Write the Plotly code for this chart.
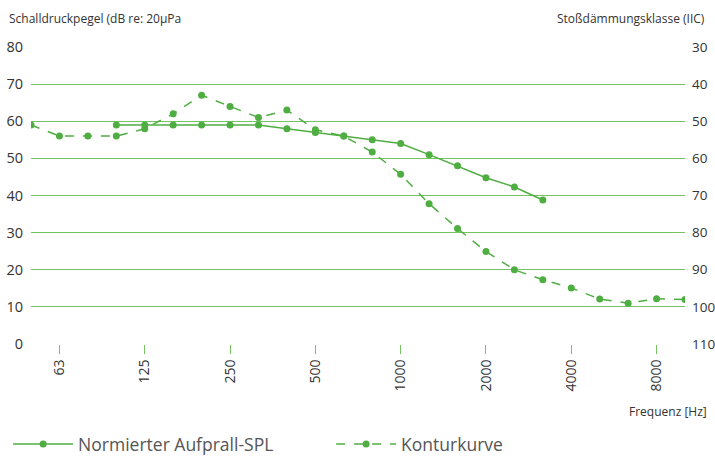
import plotly.graph_objects as go

freqs = ["50", "63", "80", "100", "125", "160", "200", "250", "315", "400", "500", "630",
         "800", "1000", "1250", "1600", "2000", "2500", "3150", "4000", "5000", "6300", "8000", "10000"]
tick_labels = ["63", "125", "250", "500", "1000", "2000", "4000", "8000"]

spl_freqs = ["100", "125", "160", "200", "250", "315", "400", "500", "630",
             "800", "1000", "1250", "1600", "2000", "2500", "3150"]
spl_values = [59, 59, 59, 59, 59, 59, 58, 57, 56, 55, 54, 51, 48, 44.8, 42.3, 38.8]

contour_values = [59, 56, 56, 56, 58, 62, 67, 64, 61, 63, 57.7, 56, 51.7, 45.7, 37.8,
                  31.1, 24.9, 20, 17.3, 15.1, 12.1, 11, 12.2, 12]

left_ticks = [0, 10, 20, 30, 40, 50, 60, 70, 80]
right_ticks = [30, 40, 50, 60, 70, 80, 90, 100, 110]

green = "#4fae41"
grid = "#76c265"
font = "Open Sans, Noto Sans, sans-serif"

fig = go.Figure()
fig.add_trace(go.Scatter(x=spl_freqs, y=spl_values, mode="lines+markers",
                         name="Normierter Aufprall-SPL",
                         line=dict(color=green, width=1.5),
                         marker=dict(color=green, size=7)))
fig.add_trace(go.Scatter(x=freqs, y=contour_values, mode="lines+markers",
                         name="Konturkurve",
                         line=dict(color=green, width=1.5, dash="dash"),
                         marker=dict(color=green, size=7)))
# invisible trace for right axis
fig.add_trace(go.Scatter(x=[freqs[0]], y=[right_ticks[0]], yaxis="y2", mode="markers",
                         marker=dict(opacity=0), showlegend=False, hoverinfo="skip"))

fig.update_layout(
    width=715, height=459,
    margin=dict(l=31, r=30, t=47, b=115, autoexpand=False),
    paper_bgcolor="white", plot_bgcolor="white",
    font=dict(family=font, color="#333333"),
    xaxis=dict(type="category", categoryorder="array", categoryarray=freqs,
               range=[0, len(freqs) - 1], automargin=False,
               tickmode="array", tickvals=tick_labels, ticktext=tick_labels,
               tickangle=-90, ticks="outside", ticklen=9, tickcolor=grid, tickwidth=1,
               showgrid=False, showline=False, zeroline=False,
               tickfont=dict(size=14, color="#333333")),
    yaxis=dict(range=[0, 80], tickvals=left_ticks, showgrid=True, gridcolor=grid, gridwidth=1.2,
               zeroline=False, showline=False, ticks="", ticklabelstandoff=7, automargin=False,
               tickfont=dict(size=14.5, color="#333333")),
    yaxis2=dict(range=[110, 30], tickvals=right_ticks, overlaying="y", side="right",
                showgrid=False, zeroline=False, showline=False, ticks="", automargin=False,
                ticklabelstandoff=6,
                tickfont=dict(size=13.5, color="#333333")),
    legend=dict(orientation="h", x=-0.035, xanchor="left", y=-0.337, yanchor="middle",
                font=dict(size=17.5, color="#555555"), itemwidth=60,
                entrywidth=248, entrywidthmode="pixels"),
    showlegend=True,
    annotations=[
        dict(text="Schalldruckpegel (dB re: 20µPa", xref="paper", yref="paper",
             x=-0.036, y=1.096, xanchor="left", yanchor="middle", showarrow=False,
             font=dict(size=12, color="#333333")),
        dict(text="Stoßdämmungsklasse (IIC)", xref="paper", yref="paper",
             x=1.034, y=1.096, xanchor="right", yanchor="middle", showarrow=False,
             font=dict(size=12, color="#333333")),
        dict(text="Frequenz [Hz]", xref="paper", yref="paper",
             x=1.037, y=-0.2275, xanchor="right", yanchor="middle", showarrow=False,
             font=dict(size=12, color="#333333")),
    ],
)

fig.write_html("out.html", config={"displayModeBar": False},
               post_script="document.body.style.margin='0px';document.body.style.padding='0px';")
